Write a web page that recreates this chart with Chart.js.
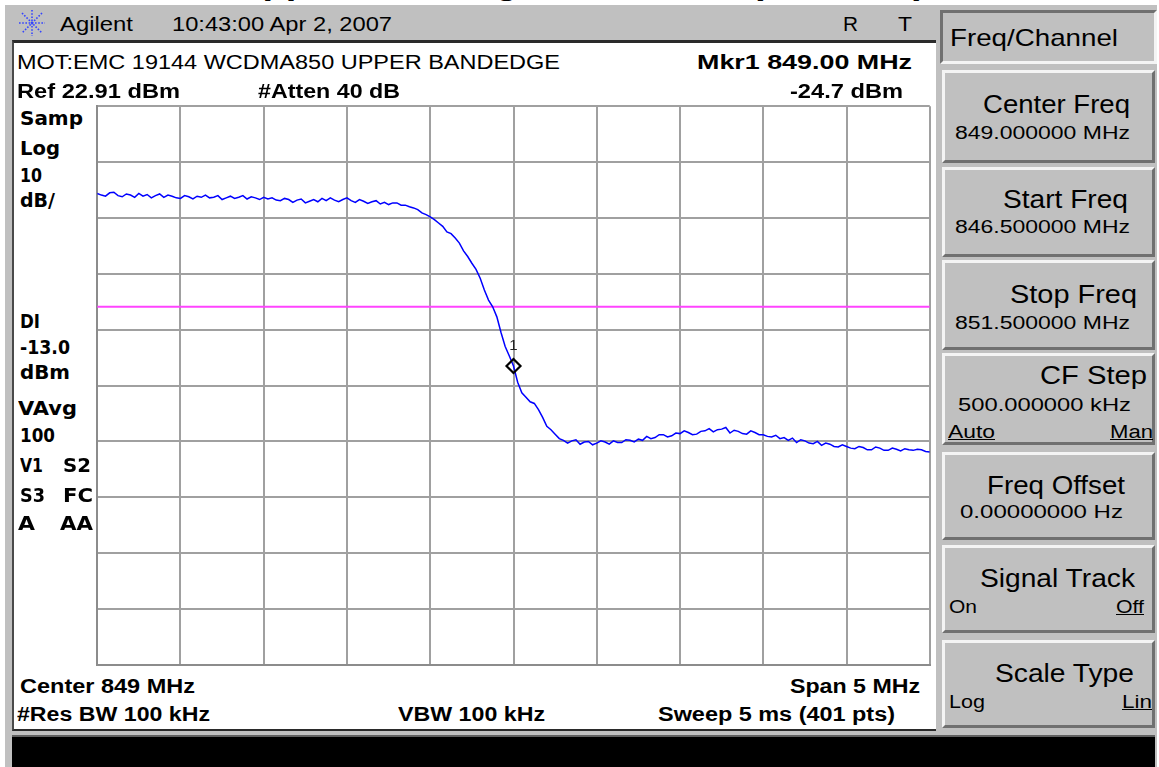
<!DOCTYPE html>
<html>
<head>
<meta charset="utf-8">
<script src="https://cdn.jsdelivr.net/npm/chart.js@4.4.1/dist/chart.umd.min.js"></script>
<style>
  html, body { margin: 0; padding: 0; background: #fff; }
  body { width: 1159px; height: 767px; position: relative; overflow: hidden; font-family: "Liberation Sans", Arial, sans-serif; }
  .box { position: absolute; box-sizing: border-box; }
  .t { position: absolute; white-space: nowrap; line-height: 1; color: #000; }
  .key { background: #c0c0c0; border-top: 3px solid #f4f4f4; border-left: 3px solid #f4f4f4; border-bottom: 3px solid #707070; border-right: 3px solid #707070; }
  #plotWrap { position: absolute; left: 88px; top: 97px; width: 851px; height: 577px; }
</style>
</head>
<body>
<div class="box" style="left:5px;top:5px;width:1152px;height:762px;background:#c0c0c0;"></div>
<div class="box" style="left:12px;top:40px;width:924px;height:691px;background:#fff;border-top:3px solid #2a2a2a;border-left:2px solid #4a4a4a;border-bottom:2px solid #2a2a2a;"></div>
<div class="box" style="left:12px;top:735px;width:1143px;height:32px;background:#000;border-top:2px solid #606060;"></div>
<div class="box" style="left:940px;top:10px;width:217px;height:54px;background:#c0c0c0;border-top:3px solid #707070;border-left:3px solid #707070;border-bottom:3px solid #f4f4f4;border-right:3px solid #f4f4f4;"></div>
<svg class="box" style="left:18px;top:9px;" width="28" height="28" viewBox="0 0 28 28">
  <g stroke="#3344ff" stroke-width="1.6" stroke-dasharray="1.6 1.6" fill="none">
    <line x1="14" y1="1" x2="14" y2="27"/><line x1="1" y1="14" x2="27" y2="14"/>
    <line x1="4" y1="4" x2="24" y2="24"/><line x1="24" y1="4" x2="4" y2="24"/>
  </g>
</svg>
<div id="plotWrap"><canvas id="spectrum" width="851" height="577"></canvas></div>
<script>
// sweep settings
const startFreq = 846.5;
const stopFreq = 851.5;
const refLevel = 22.91;      // dBm, top graticule line
const dbPerDiv = 10;
const displayLine = -13.0;   // dBm
const markerFreq = 849.0;

// trace, one value every 25 kHz from 846.5 to 851.5 MHz
const traceDbm = [
  7.3, 7.0, 6.8, 7.4, 7.5, 6.9, 6.7, 7.2, 7.0, 6.6, 7.3, 6.8, 7.1, 6.5, 6.9, 7.2, 6.6, 7.0, 6.8, 6.5,
  6.4, 6.9, 6.7, 6.3, 6.8, 6.6, 7.0, 6.5, 6.6, 6.9, 6.2, 6.5, 6.8, 6.4, 6.6, 6.9, 6.3, 6.7, 6.5, 6.2,
  6.6, 6.3, 6.5, 6.1, 6.0, 6.4, 6.2, 5.7, 6.1, 6.3, 5.6, 5.9, 6.2, 5.8, 6.4, 6.0, 6.5, 6.1, 5.8, 6.2,
  6.5, 6.0, 5.7, 6.2, 5.9, 5.5, 5.8, 6.0, 5.4, 5.7, 5.3, 5.6, 5.6, 5.2, 5.2, 4.9, 4.7, 4.4, 3.8, 3.5,
  3.1, 2.6, 2.0, 1.4, 0.4, 0.1, -0.7, -1.6, -3.0, -4.0, -5.2, -6.3, -7.9, -10.0, -11.8, -13.0, -14.8, -17.6, -20.1, -21.8,
  -23.6, -26.5, -28.4, -29.2, -30.0, -30.3, -31.4, -32.8, -34.4, -35.0, -35.8, -36.6, -36.9, -37.4, -37.0, -36.8, -37.6, -37.2, -37.1, -37.7,
  -37.4, -37.0, -37.2, -37.6, -37.0, -37.3, -37.3, -36.8, -36.9, -37.2, -36.7, -36.9, -36.2, -36.6, -36.4, -35.9, -35.9, -36.3, -36.1, -35.6,
  -35.7, -35.2, -35.5, -35.9, -35.8, -35.3, -35.2, -34.8, -35.4, -35.0, -34.9, -34.6, -35.6, -35.1, -35.3, -35.7, -35.8, -35.2, -35.5, -35.9,
  -35.9, -36.2, -36.3, -36.0, -36.6, -36.4, -36.9, -36.5, -37.3, -36.8, -37.0, -37.4, -37.5, -37.1, -37.8, -37.4, -37.6, -38.0, -38.1, -37.7,
  -38.0, -38.3, -38.4, -38.0, -38.2, -38.6, -38.6, -38.1, -38.3, -38.7, -38.7, -38.3, -38.5, -38.8, -38.4, -38.6, -38.7, -38.5, -38.6, -38.9,
  -39.0
];

const freqStep = (stopFreq - startFreq) / (traceDbm.length - 1);
const tracePoints = traceDbm.map((v, i) => ({ x: startFreq + i * freqStep, y: v }));
const markerIndex = Math.round((markerFreq - startFreq) / freqStep);

// screen text: [text, left, right, centre y, size, bold, family, underline]
const SANS = '"Liberation Sans", Arial, sans-serif';
const VERD = '"DejaVu Sans", Verdana, sans-serif';
const labels = [
  ['Upper Bandedge Emissions (WCDMA)', 235, 926, -17, 32, true, SANS],
  ['Agilent', 60, 133, 23, 21, false, SANS],
  ['10:43:00  Apr 2, 2007', 172, 392, 23, 21, false, SANS],
  ['R', 843, 858, 23, 21, false, SANS],
  ['T', 898, 912, 23, 21, false, SANS],
  ['MOT:EMC 19144 WCDMA850 UPPER BANDEDGE', 17, 560, 62, 20, false, SANS],
  ['Mkr1  849.00 MHz', 697, 912, 62, 20, true, SANS],
  ['Ref 22.91 dBm', 17, 180, 91, 20, true, SANS],
  ['#Atten 40 dB', 258, 400, 91, 20, true, SANS],
  ['-24.7 dBm', 790, 903, 91, 20, true, SANS],
  ['Samp', 20, 83, 118, 20, true, VERD],
  ['Log', 20, 60, 148, 20, true, VERD],
  ['10', 20, 42, 175, 20, true, VERD],
  ['dB/', 20, 55, 200, 20, true, VERD],
  ['DI', 20, 40, 321, 20, true, VERD],
  ['-13.0', 20, 70, 347, 20, true, VERD],
  ['dBm', 20, 70, 372, 20, true, VERD],
  ['VAvg', 18, 77, 408, 20, true, VERD],
  ['100', 20, 55, 435, 20, true, VERD],
  ['V1', 20, 43, 465, 20, true, VERD],
  ['S2', 63, 91, 465, 20, true, VERD],
  ['S3', 20, 45, 495, 20, true, VERD],
  ['FC', 63, 93, 495, 20, true, VERD],
  ['A', 18, 35, 523, 20, true, VERD],
  ['AA', 60, 93, 523, 20, true, VERD],
  ['Center 849 MHz', 20, 195, 686, 20, true, SANS],
  ['Span 5 MHz', 790, 920, 686, 20, true, SANS],
  ['#Res BW 100 kHz', 17, 210, 714, 20, true, SANS],
  ['VBW 100 kHz', 398, 545, 714, 20, true, SANS],
  ['Sweep 5 ms (401 pts)', 658, 895, 714, 20, true, SANS],
  ['Freq/Channel', 950, 1118, 38, 24, false, SANS],
  ['Center Freq', 983, 1130, 104, 26, false, SANS],
  ['849.000000 MHz', 955, 1130, 133, 18, false, SANS],
  ['Start Freq', 1003, 1128, 199, 26, false, SANS],
  ['846.500000 MHz', 955, 1130, 227, 18, false, SANS],
  ['Stop Freq', 1010, 1137, 294, 26, false, SANS],
  ['851.500000 MHz', 955, 1130, 323, 18, false, SANS],
  ['CF Step', 1040, 1147, 375, 26, false, SANS],
  ['500.000000 kHz', 958, 1131, 405, 18, false, SANS],
  ['Auto', 948, 995, 432, 18, false, SANS, true],
  ['Man', 1110, 1153, 432, 18, false, SANS, true],
  ['Freq Offset', 987, 1125, 485, 26, false, SANS],
  ['0.00000000  Hz', 960, 1123, 512, 18, false, SANS],
  ['Signal Track', 980, 1135, 578, 26, false, SANS],
  ['On', 949, 977, 607, 18, false, SANS],
  ['Off', 1116, 1144, 607, 18, false, SANS, true],
  ['Scale Type', 995, 1134, 673, 26, false, SANS],
  ['Log', 949, 985, 702, 18, false, SANS],
  ['Lin', 1122, 1152, 702, 18, false, SANS, true]
];

// softkey buttons: [top, bottom]
const softkeys = [[70, 163], [167, 257], [260, 350], [353, 445], [452, 540], [545, 633], [640, 728]];

softkeys.forEach(([top, bottom]) => {
  const b = document.createElement('div');
  b.className = 'box key';
  b.style.left = '942px';
  b.style.top = top + 'px';
  b.style.width = '213px';
  b.style.height = (bottom - top) + 'px';
  document.body.appendChild(b);
});

// fit each label to the width it takes on the screen
labels.forEach(([str, x1, x2, yc, size, bold, family, underline]) => {
  const el = document.createElement('div');
  el.className = 't';
  el.textContent = str;
  el.style.fontSize = size + 'px';
  el.style.fontWeight = bold ? 'bold' : 'normal';
  el.style.fontFamily = family;
  if (underline) el.style.textDecoration = 'underline';
  document.body.appendChild(el);
  const r = el.getBoundingClientRect();
  el.style.left = x1 + 'px';
  el.style.top = (yc - r.height / 2) + 'px';
  el.style.transformOrigin = '0 50%';
  el.style.transform = 'scaleX(' + ((x2 - x1) / r.width) + ')';
  el.style.zIndex = 5;
});

// "1" above the marker diamond
const markerLabel = {
  id: 'markerLabel',
  afterDatasetsDraw(chart) {
    const pt = chart.getDatasetMeta(0).data[0];
    if (!pt) return;
    const ctx = chart.ctx;
    ctx.save();
    ctx.font = '15px "Liberation Sans", Arial, sans-serif';
    ctx.fillStyle = '#222';
    ctx.textAlign = 'center';
    ctx.textBaseline = 'middle';
    ctx.fillText('1', pt.x, pt.y - 20);
    ctx.restore();
  }
};

const gridTicks = (from, step) => Array.from({ length: 11 }, (_, k) => ({ value: from + k * step }));

new Chart(document.getElementById('spectrum'), {
  type: 'line',
  data: {
    datasets: [
      {
        label: 'Marker 1',
        data: [tracePoints[markerIndex]],
        showLine: false,
        pointStyle: 'rectRot',
        pointRadius: 7,
        pointBorderWidth: 2.2,
        pointBorderColor: '#000',
        pointBackgroundColor: 'rgba(0,0,0,0)',
        order: 0
      },
      {
        label: 'Trace',
        data: tracePoints,
        borderColor: '#0000ff',
        borderWidth: 1.5,
        pointRadius: 0,
        tension: 0,
        order: 1
      },
      {
        label: 'Display line',
        data: [{ x: startFreq, y: displayLine }, { x: stopFreq, y: displayLine }],
        borderColor: '#ff44ff',
        borderWidth: 2,
        pointRadius: 0,
        order: 2
      }
    ]
  },
  options: {
    responsive: false,
    animation: false,
    devicePixelRatio: 1,
    layout: { padding: 4 },
    plugins: { legend: { display: false }, tooltip: { enabled: false } },
    scales: {
      x: {
        type: 'linear',
        min: startFreq,
        max: stopFreq,
        afterBuildTicks: s => { s.ticks = gridTicks(startFreq, (stopFreq - startFreq) / 10); },
        ticks: { display: false },
        grid: { color: '#a0a0a0', lineWidth: 2, drawTicks: false },
        border: { color: '#8c8c8c', width: 2 }
      },
      y: {
        type: 'linear',
        min: refLevel - 10 * dbPerDiv,
        max: refLevel,
        afterBuildTicks: s => { s.ticks = gridTicks(refLevel - 10 * dbPerDiv, dbPerDiv); },
        ticks: { display: false },
        grid: { color: '#a0a0a0', lineWidth: 2, drawTicks: false },
        border: { color: '#8c8c8c', width: 2 }
      }
    }
  },
  plugins: [markerLabel]
});
</script>
</body>
</html>
